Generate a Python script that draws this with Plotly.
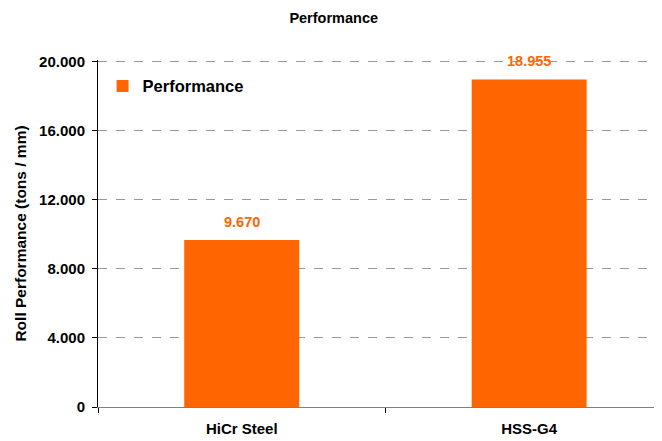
import plotly.graph_objects as go

categorias = ["HiCr Steel", "HSS-G4"]
performance = [9670, 18955]
rotulos = ["9.670", "18.955"]

laranja = "#FF6600"
fonte = "Liberation Sans, Arial, sans-serif"

fig = go.Figure(data=[go.Bar(
    x=categorias,
    y=performance,
    name="Performance",
    width=0.40,
    marker=dict(color=laranja, line=dict(width=0)),
)])

# rótulos de valor acima das barras
for cat, val, txt in zip(categorias, performance, rotulos):
    fig.add_annotation(
        x=cat, y=val, text=txt, showarrow=False,
        yanchor="bottom", yshift=8,
        font=dict(size=14.5, color=laranja, family=fonte, weight="bold"),
    )

# a página tem 8px de margem no body, por isso as margens estão descontadas
fig.update_layout(
    width=662, height=441,
    title=dict(text="Performance", x=0.492, xanchor="center", y=0.99, yanchor="top",
               font=dict(size=14.5, color="black", family=fonte, weight="bold")),
    separators=",.",
    plot_bgcolor="white",
    paper_bgcolor="white",
    showlegend=True,
    legend=dict(x=0.008, y=0.975, xanchor="left", yanchor="top",
                font=dict(size=16.5, color="black", family=fonte, weight="bold"),
                bgcolor="rgba(0,0,0,0)"),
    font=dict(family=fonte, size=15, color="black"),
    margin=dict(t=52, b=42, l=90, r=0),
    xaxis=dict(
        range=[-0.5, 1.49],
        showline=True, linecolor="#808080", linewidth=1,
        ticks="outside", tickson="boundaries", ticklen=5, tickcolor="black",
        tickfont=dict(size=15, family=fonte, color="black", weight="bold"),
        ticklabelstandoff=8,
        showgrid=False,
    ),
    yaxis=dict(
        range=[0, 20080], tick0=0, dtick=4000, tickformat=",d",
        showline=True, linecolor="black", linewidth=1,
        ticks="outside", ticklen=5, tickcolor="black",
        tickfont=dict(size=15, family=fonte, color="black", weight="bold"),
        ticklabelstandoff=4,
        showgrid=True, gridcolor="#999999", griddash="dash", gridwidth=1,
        zeroline=False,
        title=dict(text="Roll Performance (tons / mm)", standoff=8,
                   font=dict(size=15.5, family=fonte, color="black", weight="bold")),
    ),
)

fig.write_html("out.html")
